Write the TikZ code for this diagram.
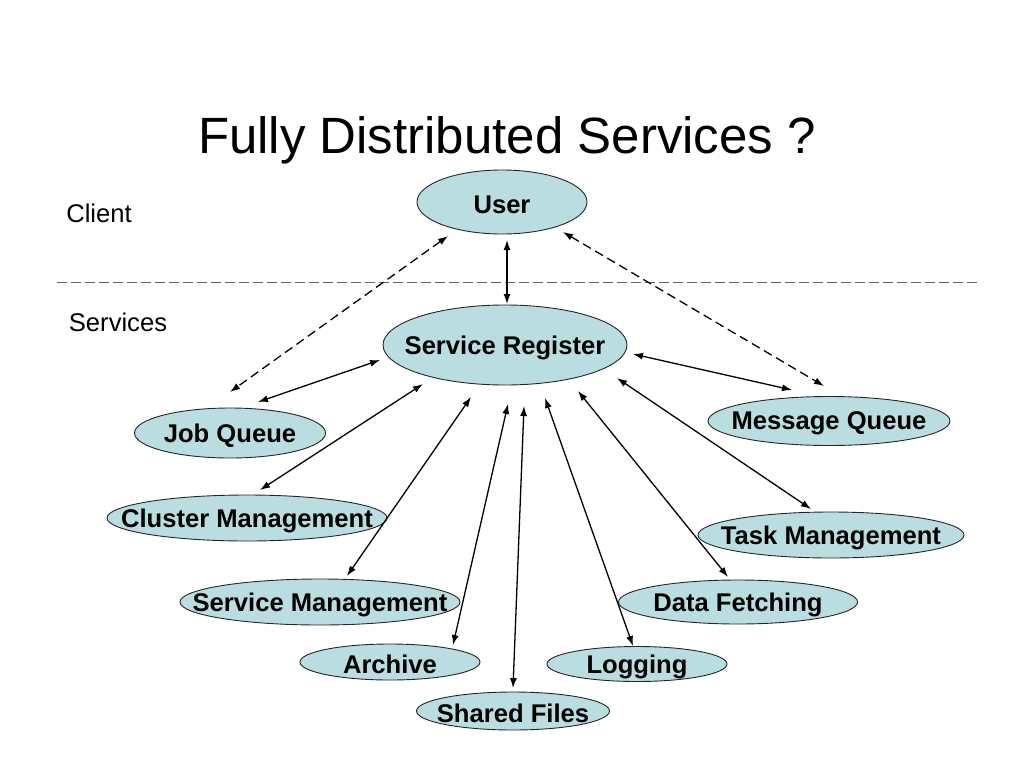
\documentclass[tikz,border=0pt]{standalone}
\usepackage{fontspec}
\setmainfont{Liberation Sans}
\usetikzlibrary{shapes.geometric,arrows.meta}
\definecolor{svcfill}{HTML}{B9DDE1}
\tikzset{
  svc/.style={ellipse, draw=black!85, line width=0.9pt, fill=svcfill, inner sep=0pt},
  svctext/.style={font=\fontsize{25.6}{30}\selectfont\bfseries, yshift=-2.5pt},
  conn/.style={line width=1.3pt, {Latex[length=10pt,width=7pt]}-{Latex[length=10pt,width=7pt]}},
  dconn/.style={conn, dash pattern=on 9pt off 5pt},
  sep/.style={draw=black!60, line width=1pt, dash pattern=on 10pt off 4pt},
  plain/.style={font=\fontsize{25.6}{30}\selectfont}
}
\begin{document}
\begin{tikzpicture}[x=1pt,y=-1pt]
\useasboundingbox (0,0) rectangle (1024,768);
\node[font=\fontsize{51}{60}\selectfont] (title) at (507,140) {Fully Distributed Services ?};
\node[plain] (client) at (99,213) {Client};
\node[plain] (services) at (118,322) {Services};
\coordinate (sepL) at (57,282);
\coordinate (sepR) at (977,282);
\draw[sep] (sepL) -- (sepR);

\newcommand{\svcnode}[6]{\node[svc, minimum width=#4pt, minimum height=#5pt, label={[svctext]center:#6}] (#1) at (#2,#3) {};}
\svcnode{user}{502}{202}{170}{64}{User}
\svcnode{sr}{505}{345}{244}{80}{Service Register}
\svcnode{jq}{230}{433}{191}{50}{Job Queue}
\svcnode{mq}{829}{421}{242}{49}{Message Queue}
\svcnode{cm}{247}{518}{280}{46}{Cluster Management}
\svcnode{tm}{831}{535}{266}{46}{Task Management}
\svcnode{sm}{320}{602}{280}{46}{Service Management}
\svcnode{df}{738}{602}{239}{44}{Data Fetching}
\svcnode{ar}{390}{662}{180}{36}{Archive}
\svcnode{lg}{637}{664}{180}{35}{Logging}
\svcnode{sf}{513}{711}{193}{38}{Shared Files}

% connector end points (arrows stop short of the ellipses)
\coordinate (u-s) at (507,240); \coordinate (s-u) at (507,304);
\coordinate (u-jq) at (448,236); \coordinate (jq-u) at (230,392);
\coordinate (u-mq) at (563,232); \coordinate (mq-u) at (824,386);
\coordinate (s-jq) at (380,360); \coordinate (jq-s) at (258,402);
\coordinate (s-cm) at (423,384); \coordinate (cm-s) at (260,490);
\coordinate (s-sm) at (471,397); \coordinate (sm-s) at (347,576);
\coordinate (s-ar) at (508,404); \coordinate (ar-s) at (453,645);
\coordinate (s-sf) at (524,406); \coordinate (sf-s) at (513,688);
\coordinate (s-lg) at (545,398); \coordinate (lg-s) at (633,646);
\coordinate (s-df) at (578,391); \coordinate (df-s) at (728,577);
\coordinate (s-tm) at (617,378); \coordinate (tm-s) at (811,509);
\coordinate (s-mq) at (633,354); \coordinate (mq-s) at (792,390);

\draw[conn] (u-s) -- (s-u);
\draw[dconn] (u-jq) -- (jq-u);
\draw[dconn] (u-mq) -- (mq-u);
\draw[conn] (s-jq) -- (jq-s);
\draw[conn] (s-cm) -- (cm-s);
\draw[conn] (s-sm) -- (sm-s);
\draw[conn] (s-ar) -- (ar-s);
\draw[conn] (s-sf) -- (sf-s);
\draw[conn] (s-lg) -- (lg-s);
\draw[conn] (s-df) -- (df-s);
\draw[conn] (s-tm) -- (tm-s);
\draw[conn] (s-mq) -- (mq-s);
\end{tikzpicture}
\end{document}
